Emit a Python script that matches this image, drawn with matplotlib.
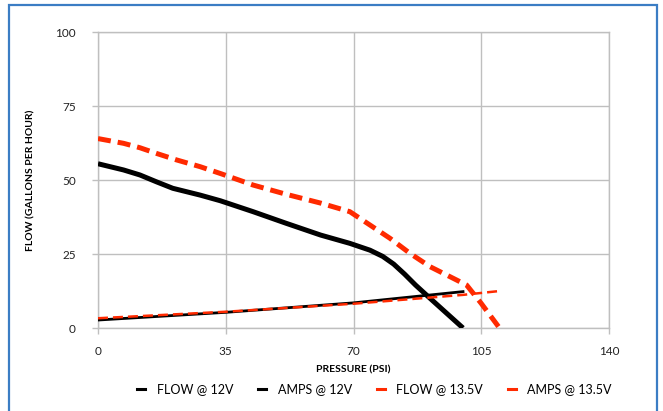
import matplotlib
matplotlib.use("Agg")
import matplotlib.pyplot as plt
from matplotlib.lines import Line2D
from matplotlib.patches import Rectangle

plt.rcParams["font.family"] = ["Lato", "DejaVu Sans"]

red = "#FF2A00"
grid_gray = "#BFBFBF"
frame_blue = "#3B7DC4"

# flow curves (gallons per hour) vs pressure (psi)
flow_12_psi = [0, 7, 11.5, 16, 20.5, 28, 33.5, 42.5, 51.5, 61, 69, 74.5, 78, 81, 84, 87, 91, 95.5, 100]
flow_12_gph = [55.5, 53.4, 51.7, 49.4, 47.2, 44.9, 43, 39.3, 35.4, 31.4, 28.6, 26.3, 24.2, 21.6, 18.2, 14.5, 10, 5, 0]

flow_135_psi = [0, 7, 11.5, 16, 21.5, 28, 34, 42.5, 51.5, 61, 69, 74.5, 80, 85.5, 91, 96.5, 101, 105, 110]
flow_135_gph = [64, 62.4, 60.9, 59, 56.8, 54.5, 52, 48.3, 45.2, 42.2, 39.3, 34.8, 30.3, 25.2, 20.7, 17.3, 14.5, 8.3, 0]

# amp draw lines
amps_12_psi = [0, 35, 70, 100]
amps_12 = [2.7, 5.3, 8.5, 12.3]

amps_135_psi = [0, 35, 70, 100, 110]
amps_135 = [3.3, 5.5, 8.2, 11.2, 12.5]

labels = ["FLOW @ 12V", "AMPS @ 12V", "FLOW @ 13.5V", "AMPS @ 13.5V"]
x_ticks = [0, 35, 70, 105, 140]
y_ticks = [0, 25, 50, 75, 100]

fig = plt.figure(figsize=(6.63, 4.11), dpi=100)
ax = fig.add_axes([0.1478, 0.2019, 0.7708, 0.7202])

ax.plot(flow_12_psi, flow_12_gph, color="black", lw=3.6,
        solid_joinstyle="round", solid_capstyle="butt", zorder=3)
ax.plot(amps_12_psi, amps_12, color="black", lw=2.0, zorder=3)
ax.plot(flow_135_psi, flow_135_gph, color=red, lw=3.6, ls=(0, (2.6, 1.4)),
        dash_joinstyle="round", zorder=4)
ax.plot(amps_135_psi, amps_135, color=red, lw=1.8, ls=(0, (4, 2)), zorder=4)

ax.set_xlim(0, 140)
ax.set_ylim(0, 100)
ax.set_xticks(x_ticks)
ax.set_yticks(y_ticks)
ax.grid(True, color=grid_gray, lw=1)
ax.set_axisbelow(True)
for s in ax.spines.values():
    s.set_color(grid_gray)
    s.set_linewidth(1)
ax.tick_params(axis="both", colors=grid_gray, labelcolor="#222222",
               labelsize=8.5, length=4, width=1)
ax.tick_params(axis="y", pad=12)
ax.tick_params(axis="x", pad=9)

ax.set_xlabel("PRESSURE (PSI)", fontsize=7.5, fontweight="bold", labelpad=6)
ax.set_ylabel("FLOW (GALLONS PER HOUR)", fontsize=7.5, fontweight="bold", labelpad=14)

# legend uses short solid keys for every series, like the original
handles = [Line2D([], [], color=c, lw=2.2) for c in ["black", "black", red, red]]
fig.legend(handles, labels, loc="center", bbox_to_anchor=(0.565, 0.053), ncol=4,
           frameon=False, fontsize=9, handlelength=0.65, handletextpad=0.9,
           columnspacing=2.0)

# blue frame around the chart
fig.patches.append(Rectangle((9 / 663, -0.05), 648 / 663, 1 - 5 / 411 + 0.05,
                             transform=fig.transFigure, fill=False,
                             edgecolor=frame_blue, lw=1.6))

fig.savefig("out.png", dpi=100)
